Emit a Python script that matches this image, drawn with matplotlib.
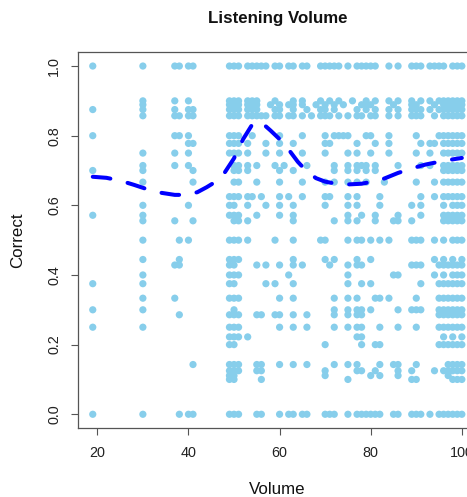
import matplotlib.pyplot as plt

plt.rcParams["font.family"] = ["Liberation Sans", "DejaVu Sans"]

# proportion correct levels and the volumes that have a response at each level
correct_levels = [
    1.0, 0.9, 8 / 9, 7 / 8, 6 / 7, 0.8, 7 / 9, 0.75, 5 / 7, 0.7, 2 / 3,
    5 / 8, 0.6, 4 / 7, 5 / 9, 0.5, 4 / 9, 3 / 7, 0.4, 3 / 8, 1 / 3, 0.3,
    2 / 7, 0.25, 2 / 9, 0.2, 1 / 7, 1 / 8, 1 / 9, 0.1, 0.0,
]
volume_rows = [
    [19, 30, 37, 38, 40, 41, 49, 50, 51, 53, 54, 55, 56, 57, 59, 60, 62, 63, 65, 66, 69, 70, 71, 72, 73,
     75, 77, 78, 79, 80, 81, 84, 86, 89, 90, 91, 93, 94, 95, 96, 98, 99, 100],
    [30, 37, 40, 49, 50, 51, 53, 54, 55, 59, 63, 65, 69, 71, 73, 76, 79, 81, 84, 86, 89, 91, 93, 95, 96,
     97, 98, 99, 100],
    [30, 49, 50, 51, 53, 54, 55, 58, 60, 62, 63, 65, 68, 70, 72, 74, 78, 79, 80, 85, 89, 90, 94, 96, 97,
     98, 99, 100],
    [19, 30, 37, 40, 41, 49, 50, 51, 53, 54, 55, 59, 60, 63, 66, 69, 70, 72, 77, 79, 81, 84, 86, 89, 90,
     91, 93, 95, 96, 97, 98, 99, 100],
    [30, 37, 38, 40, 41, 49, 50, 51, 53, 54, 55, 56, 57, 59, 60, 62, 63, 65, 67, 69, 70, 71, 73, 75, 77,
     78, 80, 81, 84, 86, 89, 90, 91, 94, 96, 97, 98, 99, 100],
    [19, 37, 38, 40, 49, 50, 51, 54, 60, 65, 70, 72, 73, 74, 75, 79, 80, 84, 90, 95, 96, 97, 98, 99, 100],
    [40, 41, 49, 50, 51, 53, 57, 60, 63, 70, 71, 77, 81, 84, 91, 93, 94, 96, 97, 98, 99, 100],
    [30, 37, 40, 49, 50, 51, 53, 57, 60, 65, 70, 75, 77, 80, 84, 90, 93, 96, 97, 98, 99, 100],
    [30, 37, 40, 50, 51, 53, 55, 59, 61, 66, 72, 75, 77, 78, 79, 81, 86, 91, 93, 96, 97, 98, 99, 100],
    [19, 30, 41, 50, 51, 53, 60, 63, 72, 75, 77, 79, 81, 96, 97, 98, 99, 100],
    [30, 41, 50, 51, 55, 60, 65, 70, 72, 75, 77, 79, 83, 90, 94, 96, 97, 98, 99, 100],
    [49, 50, 51, 53, 54, 56, 60, 62, 65, 70, 71, 75, 77, 82, 91, 94, 96, 97, 98, 99, 100],
    [30, 40, 49, 50, 53, 57, 60, 63, 70, 75, 77, 82, 89, 91, 96, 98, 99, 100],
    [19, 30, 49, 50, 51, 55, 60, 63, 75, 78, 81, 86, 91, 96, 97, 98, 99, 100],
    [30, 37, 41, 50, 51, 53, 63, 72, 75, 77, 81, 85, 86, 89, 96, 97, 98, 99, 100],
    [30, 38, 40, 49, 50, 51, 53, 59, 63, 69, 70, 75, 77, 78, 80, 82, 84, 89, 90, 91, 94, 96, 98, 99, 100],
    [30, 38, 49, 50, 51, 63, 70, 72, 77, 80, 94, 96, 98, 100],
    [37, 38, 49, 50, 55, 57, 60, 63, 65, 71, 75, 77, 78, 89, 90, 91, 95, 96, 97, 98, 99, 100],
    [30, 49, 50, 51, 62, 75, 85, 86, 94, 96, 98, 99, 100],
    [19, 30, 49, 50, 57, 59, 63, 75, 78, 80, 91, 95, 96, 97, 98, 99, 100],
    [30, 37, 49, 50, 51, 60, 63, 72, 75, 77, 81, 82, 84, 90, 95, 96, 97, 98, 99, 100],
    [19, 30, 50, 72, 75, 77, 78, 80, 86, 89, 90, 91, 95, 96, 97, 98, 99, 100],
    [38, 49, 50, 51, 55, 56, 59, 60, 63, 66, 72, 75, 77, 78, 95, 96, 97, 98, 99, 100],
    [19, 30, 49, 50, 51, 60, 63, 66, 72, 75, 77, 78, 82, 86, 90, 95, 96, 97, 98, 99, 100],
    [49, 50, 51, 53, 77, 78, 96, 98, 100],
    [49, 50, 70, 78, 81, 82, 95, 96, 97, 98, 99, 100],
    [41, 49, 50, 51, 55, 56, 60, 63, 66, 72, 75, 77, 82, 85, 86, 90, 97, 98, 99, 100],
    [49, 50, 51, 55, 56, 70, 77, 78, 81, 86, 89, 94, 96, 97, 98, 99, 100],
    [49, 50, 70, 80, 82, 86, 97],
    [49, 50, 56, 75, 89, 90, 98, 99, 100],
    [19, 30, 38, 40, 41, 49, 50, 51, 55, 56, 60, 62, 63, 65, 66, 70, 71, 72, 75, 77, 78, 79, 80, 81, 82,
     85, 86, 89, 90, 91, 93, 95, 96, 97, 98, 99, 100],
]

# smoothed trend
trend_volume = [19, 22, 25, 28, 31, 34, 37, 40, 42, 44, 46, 48, 50, 52, 54, 55, 56, 58, 60, 62,
                64, 66, 68, 70, 72, 75, 78, 80, 83, 86, 89, 92, 95, 98, 100]
trend_correct = [0.682, 0.679, 0.671, 0.659, 0.646, 0.636, 0.630, 0.630, 0.638, 0.652, 0.668,
                 0.695, 0.735, 0.790, 0.832, 0.840, 0.838, 0.815, 0.790, 0.760, 0.725, 0.697,
                 0.678, 0.668, 0.663, 0.660, 0.662, 0.667, 0.677, 0.693, 0.706, 0.717, 0.725,
                 0.732, 0.736]


def plot_listening_volume(output_path: str) -> None:
    xs, ys = [], []
    for level, volumes in zip(correct_levels, volume_rows):
        xs.extend(volumes)
        ys.extend([level] * len(volumes))

    fig = plt.figure(figsize=(4.67, 4.97), dpi=100)
    ax = fig.add_axes([78 / 467, 1 - 428.2 / 497, 398.6 / 467, 376.1 / 497])

    ax.scatter(xs, ys, s=27, c="#87CEEB", edgecolors="none", zorder=2)
    line, = ax.plot(trend_volume, trend_correct, color="#0000FF", lw=2.9,
                    dash_capstyle="round", zorder=3)
    line.set_dashes((4.4, 4.4))

    ax.set_xlim(15.76, 103.24)
    ax.set_ylim(-0.04, 1.04)
    ax.set_xticks([20, 40, 60, 80, 100])
    ax.set_yticks([0.0, 0.2, 0.4, 0.6, 0.8, 1.0])
    ax.set_yticklabels(["0.0", "0.2", "0.4", "0.6", "0.8", "1.0"], rotation=90, va="center")

    for spine in ax.spines.values():
        spine.set_color("#555555")
        spine.set_linewidth(0.9)
    ax.tick_params(length=5, width=0.8, color="#555555", labelsize=10.4, labelcolor="#222222")
    ax.tick_params(axis="x", pad=8)
    ax.tick_params(axis="y", pad=7)

    cx = (78 + 476.6) / 2 / 467
    fig.text(cx, 1 - 18 / 497, "Listening Volume", ha="center", va="center",
             fontsize=12.2, fontweight="bold", color="#111111")
    fig.text(cx, 1 - 494 / 497, "Volume", ha="center", va="baseline", fontsize=12.2, color="#111111")
    fig.text(18 / 467, 1 - 240 / 497, "Correct", ha="center", va="center", rotation=90,
             fontsize=12.2, color="#111111")

    fig.savefig(output_path, dpi=100)
    plt.close(fig)


plot_listening_volume("out.png")
